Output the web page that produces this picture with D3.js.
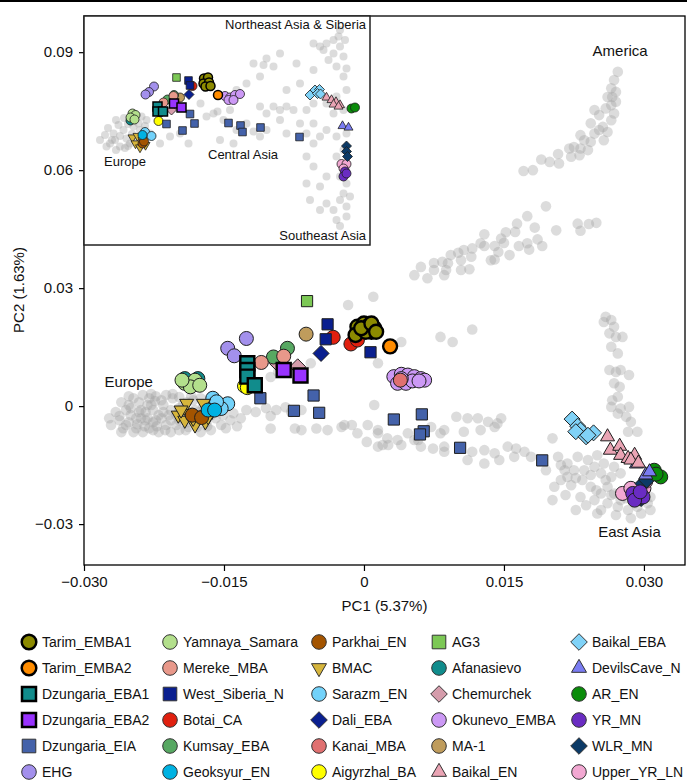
<!DOCTYPE html>
<meta charset="utf-8">
<script src="https://d3js.org/d3.v7.min.js"></script>
<body>
  <div id="my_dataviz"></div>
</body>
<style>
body { margin: 0; background: #fff; }
text { font-family: "Liberation Sans", Arial, Helvetica, sans-serif; fill: #111; }
.axis text { font-size: 15px; }
.axis line { stroke: #000; stroke-width: 1.2; }
</style>
<script>
// ---- data ----
var xTicks = [-0.030, -0.015, 0, 0.015, 0.030];
var xTickLabels = ["\u22120.030", "\u22120.015", "0", "0.015", "0.030"];
var yTicks = [0.09, 0.06, 0.03, 0, -0.03];
var yTickLabels = ["0.09", "0.06", "0.03", "0", "\u22120.03"];

// legend order, column by column
var groupNames = [
  "Tarim_EMBA1", "Tarim_EMBA2", "Dzungaria_EBA1", "Dzungaria_EBA2", "Dzungaria_EIA", "EHG",
  "Yamnaya_Samara", "Mereke_MBA", "West_Siberia_N", "Botai_CA", "Kumsay_EBA", "Geoksyur_EN",
  "Parkhai_EN", "BMAC", "Sarazm_EN", "Dali_EBA", "Kanai_MBA", "Aigyrzhal_BA",
  "AG3", "Afanasievo", "Chemurchek", "Okunevo_EMBA", "MA-1", "Baikal_EN",
  "Baikal_EBA", "DevilsCave_N", "AR_EN", "YR_MN", "WLR_MN", "Upper_YR_LN"
];

// ancient individuals, main panel [group, PC1, PC2]
var mainPoints = [
  ["Tarim_EMBA1", -0.0007, 0.0202], ["Tarim_EMBA1", 0.0000, 0.0210], ["Tarim_EMBA1", 0.0006, 0.0206],
  ["Tarim_EMBA1", 0.0011, 0.0198], ["Tarim_EMBA1", 0.0008, 0.0189], ["Tarim_EMBA1", -0.0009, 0.0181],
  ["Tarim_EMBA1", 0.0002, 0.0189], ["Tarim_EMBA1", -0.0003, 0.0198], ["Tarim_EMBA1", 0.0008, 0.0210],
  ["Tarim_EMBA1", 0.0013, 0.0189],
  ["Tarim_EMBA2", 0.0028, 0.0152],
  ["Dzungaria_EBA1", -0.0125, 0.0109], ["Dzungaria_EBA1", -0.0125, 0.0092], ["Dzungaria_EBA1", -0.0125, 0.0075],
  ["Dzungaria_EBA1", -0.0117, 0.0053],
  ["Dzungaria_EBA2", -0.0086, 0.0092], ["Dzungaria_EBA2", -0.0068, 0.0078],
  ["Dzungaria_EIA", -0.0111, 0.0020], ["Dzungaria_EIA", -0.0075, -0.0012], ["Dzungaria_EIA", -0.0054, 0.0027],
  ["Dzungaria_EIA", -0.0048, -0.0017], ["Dzungaria_EIA", 0.0032, -0.0034], ["Dzungaria_EIA", 0.0062, -0.0021],
  ["Dzungaria_EIA", 0.0064, -0.0064], ["Dzungaria_EIA", 0.0060, -0.0072], ["Dzungaria_EIA", 0.0103, -0.0106],
  ["Dzungaria_EIA", 0.0191, -0.0138],
  ["EHG", -0.0126, 0.0172], ["EHG", -0.0146, 0.0147], ["EHG", -0.0139, 0.0128],
  ["Yamnaya_Samara", -0.0192, 0.0058], ["Yamnaya_Samara", -0.0181, 0.0066], ["Yamnaya_Samara", -0.0186, 0.0049],
  ["Yamnaya_Samara", -0.0176, 0.0053], ["Yamnaya_Samara", -0.0195, 0.0066],
  ["Mereke_MBA", -0.0110, 0.0111], ["Mereke_MBA", -0.0086, 0.0127],
  ["West_Siberia_N", -0.0039, 0.0208], ["West_Siberia_N", -0.0041, 0.0170], ["West_Siberia_N", 0.0007, 0.0137],
  ["Botai_CA", -0.0033, 0.0175], ["Botai_CA", -0.0014, 0.0158], ["Botai_CA", -0.0007, 0.0168],
  ["Kumsay_EBA", -0.0097, 0.0125], ["Kumsay_EBA", -0.0082, 0.0147],
  ["Geoksyur_EN", -0.0167, -0.0010], ["Geoksyur_EN", -0.0160, -0.0010],
  ["Parkhai_EN", -0.0184, -0.0023], ["Parkhai_EN", -0.0174, -0.0029],
  ["BMAC", -0.0190, 0.0007], ["BMAC", -0.0172, 0.0007], ["BMAC", -0.0199, -0.0023], ["BMAC", -0.0192, -0.0036],
  ["BMAC", -0.0181, -0.0048], ["BMAC", -0.0170, -0.0040], ["BMAC", -0.0163, -0.0014], ["BMAC", -0.0188, -0.0019],
  ["BMAC", -0.0176, -0.0023], ["BMAC", -0.0183, -0.0031], ["BMAC", -0.0167, -0.0027], ["BMAC", -0.0196, -0.0010],
  ["Sarazm_EN", -0.0162, 0.0020], ["Sarazm_EN", -0.0146, 0.0006], ["Sarazm_EN", -0.0153, -0.0006],
  ["Sarazm_EN", -0.0158, 0.0011],
  ["Dali_EBA", -0.0046, 0.0134],
  ["Kanai_MBA", 0.0039, 0.0066],
  ["Aigyrzhal_BA", -0.0128, 0.0051], ["Aigyrzhal_BA", -0.0125, 0.0047],
  ["AG3", -0.0061, 0.0267],
  ["Afanasievo", -0.0192, 0.0070], ["Afanasievo", -0.0178, 0.0070],
  ["Chemurchek", -0.0071, 0.0100], ["Chemurchek", -0.0093, 0.0109],
  ["Okunevo_EMBA", 0.0032, 0.0075], ["Okunevo_EMBA", 0.0040, 0.0081], ["Okunevo_EMBA", 0.0047, 0.0079],
  ["Okunevo_EMBA", 0.0054, 0.0075], ["Okunevo_EMBA", 0.0061, 0.0070], ["Okunevo_EMBA", 0.0065, 0.0066],
  ["Okunevo_EMBA", 0.0036, 0.0058], ["Okunevo_EMBA", 0.0045, 0.0058], ["Okunevo_EMBA", 0.0052, 0.0064],
  ["Okunevo_EMBA", 0.0059, 0.0064], ["Okunevo_EMBA", 0.0040, 0.0070],
  ["MA-1", -0.0062, 0.0183],
  ["Baikal_EN", 0.0261, -0.0078], ["Baikal_EN", 0.0264, -0.0112], ["Baikal_EN", 0.0274, -0.0102],
  ["Baikal_EN", 0.0275, -0.0125], ["Baikal_EN", 0.0283, -0.0133], ["Baikal_EN", 0.0290, -0.0125],
  ["Baikal_EN", 0.0286, -0.0137], ["Baikal_EN", 0.0294, -0.0145],
  ["Baikal_EBA", 0.0223, -0.0033], ["Baikal_EBA", 0.0229, -0.0051], ["Baikal_EBA", 0.0232, -0.0061],
  ["Baikal_EBA", 0.0227, -0.0065], ["Baikal_EBA", 0.0238, -0.0078], ["Baikal_EBA", 0.0246, -0.0068],
  ["Baikal_EBA", 0.0240, -0.0074],
  ["DevilsCave_N", 0.0292, -0.0147], ["DevilsCave_N", 0.0302, -0.0175], ["DevilsCave_N", 0.0306, -0.0167],
  ["AR_EN", 0.0311, -0.0163], ["AR_EN", 0.0318, -0.0180], ["AR_EN", 0.0313, -0.0173],
  ["YR_MN", 0.0288, -0.0222], ["YR_MN", 0.0293, -0.0235], ["YR_MN", 0.0299, -0.0231],
  ["YR_MN", 0.0290, -0.0239], ["YR_MN", 0.0296, -0.0218],
  ["WLR_MN", 0.0299, -0.0197], ["WLR_MN", 0.0303, -0.0188], ["WLR_MN", 0.0297, -0.0235],
  ["Upper_YR_LN", 0.0277, -0.0222], ["Upper_YR_LN", 0.0286, -0.0209], ["Upper_YR_LN", 0.0300, -0.0209],
  ["Upper_YR_LN", 0.0302, -0.0191]
];

// present-day reference individuals, main panel [PC1, PC2]
var grayMain = [
  // Europe
  [-0.0262, -0.0036], [-0.0255, -0.0048], [-0.0250, -0.0023], [-0.0244, -0.0056], [-0.0239, -0.0010],
  [-0.0234, -0.0036], [-0.0228, 0.0003], [-0.0226, -0.0061], [-0.0220, -0.0023], [-0.0217, 0.0015],
  [-0.0212, -0.0048], [-0.0207, -0.0010], [-0.0205, 0.0020], [-0.0198, -0.0036], [-0.0194, 0.0003],
  [-0.0188, -0.0053], [-0.0183, 0.0015], [-0.0177, -0.0015], [-0.0169, -0.0041], [-0.0164, -0.0061],
  [-0.0159, -0.0031], [-0.0153, -0.0048], [-0.0241, 0.0010], [-0.0230, 0.0020], [-0.0252, 0.0003],
  [-0.0191, -0.0061], [-0.0175, -0.0066], [-0.0143, -0.0036], [-0.0148, -0.0056], [-0.0136, -0.0051],
  [-0.0271, -0.0048], [-0.0260, -0.0066], [-0.0237, -0.0066], [-0.0201, -0.0023], [-0.0223, -0.0036],
  [-0.0247, 0.0020], [-0.0237, 0.0028], [-0.0223, 0.0025], [-0.0212, 0.0028], [-0.0198, 0.0023],
  [-0.0185, 0.0025], [-0.0175, 0.0020], [-0.0255, -0.0010], [-0.0244, -0.0031], [-0.0234, -0.0015],
  [-0.0226, -0.0041], [-0.0217, -0.0031], [-0.0209, -0.0023], [-0.0201, -0.0048], [-0.0194, -0.0031],
  [-0.0185, -0.0015], [-0.0180, -0.0036], [-0.0166, -0.0010], [-0.0162, 0.0003], [-0.0155, -0.0010],
  [-0.0151, -0.0023], [-0.0266, -0.0015], [-0.0273, -0.0031], [-0.0258, -0.0056], [-0.0247, -0.0066],
  [-0.0230, -0.0056], [-0.0220, -0.0066], [-0.0207, -0.0066], [-0.0198, -0.0061], [-0.0215, 0.0003],
  [-0.0226, -0.0010], [-0.0239, -0.0031], [-0.0252, -0.0041],
  [-0.0260, 0.0010], [-0.0250, -0.0005], [-0.0241, -0.0015], [-0.0232, 0.0003], [-0.0224, 0.0013],
  [-0.0215, -0.0015], [-0.0207, -0.0036], [-0.0198, -0.0005], [-0.0190, 0.0010], [-0.0181, -0.0010],
  [-0.0172, 0.0000], [-0.0164, -0.0023], [-0.0243, -0.0046], [-0.0235, -0.0051], [-0.0222, -0.0051],
  [-0.0213, -0.0061], [-0.0190, -0.0041], [-0.0179, -0.0053], [-0.0168, -0.0051], [-0.0262, -0.0025],
  [-0.0252, 0.0025], [-0.0228, 0.0031], [-0.0205, 0.0031], [-0.0192, -0.0010], [-0.0232, -0.0031],
  // Central Asia / Siberia band
  [-0.0140, -0.0018], [-0.0126, -0.0010], [-0.0116, -0.0015], [-0.0105, -0.0005], [-0.0094, -0.0010],
  [-0.0084, -0.0003], [-0.0078, -0.0015], [-0.0132, -0.0031], [-0.0100, -0.0025], [-0.0067, -0.0010],
  [-0.0100, 0.0074], [-0.0092, 0.0087], [-0.0057, 0.0109], [-0.0017, 0.0257], [0.0010, 0.0278],
  [0.0040, 0.0163], [0.0011, 0.0003], [-0.0021, -0.0048], [-0.0013, -0.0048], [-0.0007, -0.0069],
  [0.0004, -0.0048], [0.0015, -0.0069], [0.0025, -0.0082], [0.0036, -0.0086], [0.0047, -0.0069],
  [0.0058, -0.0086], [0.0072, -0.0053], [0.0082, -0.0069], [0.0086, -0.0103], [-0.0067, -0.0061],
  [-0.0051, -0.0057], [-0.0039, -0.0061], [-0.0100, -0.0057], [0.0020, -0.0099], [0.0040, -0.0099],
  [0.0061, -0.0103], [0.0074, -0.0108], [0.0082, 0.0176], [-0.0074, -0.0057], [-0.0024, -0.0053],
  [0.0015, -0.0061], [0.0003, -0.0091], [0.0015, -0.0103], [0.0026, -0.0099], [0.0015, 0.0109],
  [0.0095, 0.0163], [0.0116, 0.0195], [0.0099, -0.0027], [0.0111, -0.0031], [0.0122, -0.0031],
  [0.0133, -0.0040], [0.0143, -0.0044], [0.0147, -0.0031], [0.0140, -0.0053], [0.0107, -0.0065],
  [0.0125, -0.0061], [0.0086, -0.0061], [0.0054, -0.0086], [0.0086, -0.0116], [0.0116, -0.0116],
  [0.0129, -0.0112], [0.0140, -0.0120], [0.0154, -0.0103], [0.0163, -0.0108], [0.0172, -0.0116],
  [0.0111, -0.0137], [0.0129, -0.0146], [0.0145, -0.0137], [0.0161, -0.0129], [0.0179, -0.0129],
  [0.0202, -0.0082],
  // East Asia
  [0.0208, -0.0129], [0.0218, -0.0146], [0.0229, -0.0129], [0.0240, -0.0137], [0.0250, -0.0125],
  [0.0225, -0.0163], [0.0236, -0.0163], [0.0247, -0.0154], [0.0257, -0.0146], [0.0268, -0.0154],
  [0.0254, -0.0171], [0.0265, -0.0180], [0.0275, -0.0171], [0.0211, -0.0188], [0.0204, -0.0205],
  [0.0222, -0.0201], [0.0234, -0.0188], [0.0243, -0.0205], [0.0254, -0.0222], [0.0261, -0.0205],
  [0.0232, -0.0231], [0.0247, -0.0239], [0.0261, -0.0247], [0.0272, -0.0256], [0.0283, -0.0264],
  [0.0293, -0.0256], [0.0304, -0.0247], [0.0307, -0.0231], [0.0275, -0.0239], [0.0290, -0.0247],
  [0.0268, -0.0222], [0.0218, -0.0180], [0.0215, -0.0163], [0.0202, -0.0239], [0.0250, -0.0273],
  [0.0297, -0.0273], [0.0211, -0.0150], [0.0227, -0.0183], [0.0243, -0.0175], [0.0259, -0.0188],
  [0.0249, -0.0214], [0.0265, -0.0226], [0.0281, -0.0234], [0.0238, -0.0252], [0.0254, -0.0264],
  [0.0270, -0.0277], [0.0286, -0.0285], [0.0216, -0.0226], [0.0227, -0.0264], [0.0195, -0.0163],
  [0.0307, -0.0264],
  // Siberia arm
  [0.0259, 0.0227], [0.0257, 0.0214], [0.0265, 0.0219], [0.0268, 0.0202], [0.0263, 0.0185],
  [0.0270, 0.0176], [0.0277, 0.0176], [0.0265, 0.0151], [0.0272, 0.0134], [0.0263, 0.0092],
  [0.0270, 0.0087], [0.0275, 0.0092], [0.0284, 0.0079], [0.0268, 0.0058], [0.0274, 0.0049],
  [0.0266, 0.0015], [0.0272, 0.0024], [0.0265, -0.0002], [0.0275, -0.0006], [0.0284, -0.0002],
  [0.0272, -0.0019], [0.0281, -0.0027], [0.0286, -0.0040], [0.0283, -0.0065], [0.0293, -0.0065],
  // America arm
  [0.0272, 0.0850], [0.0268, 0.0829], [0.0265, 0.0808], [0.0270, 0.0799], [0.0266, 0.0786],
  [0.0261, 0.0786], [0.0270, 0.0774], [0.0265, 0.0765], [0.0259, 0.0757], [0.0247, 0.0753],
  [0.0252, 0.0740], [0.0268, 0.0744], [0.0265, 0.0727], [0.0243, 0.0719], [0.0256, 0.0710],
  [0.0261, 0.0697], [0.0252, 0.0702], [0.0247, 0.0693], [0.0232, 0.0689], [0.0236, 0.0676],
  [0.0243, 0.0672], [0.0257, 0.0676], [0.0225, 0.0659], [0.0232, 0.0655], [0.0240, 0.0651],
  [0.0220, 0.0655], [0.0231, 0.0638], [0.0222, 0.0634], [0.0208, 0.0641], [0.0199, 0.0621],
  [0.0209, 0.0617], [0.0190, 0.0627], [0.0181, 0.0600], [0.0171, 0.0598],
  [0.0195, 0.0508], [0.0175, 0.0483], [0.0164, 0.0464], [0.0183, 0.0454], [0.0206, 0.0447],
  [0.0229, 0.0464], [0.0232, 0.0446], [0.0241, 0.0463], [0.0249, 0.0466], [0.0152, 0.0442],
  [0.0162, 0.0443], [0.0129, 0.0437], [0.0147, 0.0426], [0.0150, 0.0415], [0.0186, 0.0424],
  [0.0175, 0.0414], [0.0191, 0.0407], [0.0166, 0.0407], [0.0177, 0.0398], [0.0156, 0.0384],
  [0.0144, 0.0392], [0.0140, 0.0407], [0.0129, 0.0407], [0.0116, 0.0401], [0.0107, 0.0397],
  [0.0115, 0.0380], [0.0104, 0.0371], [0.0093, 0.0384], [0.0090, 0.0363], [0.0084, 0.0367],
  [0.0075, 0.0364], [0.0140, 0.0373], [0.0136, 0.0371], [0.0104, 0.0346], [0.0113, 0.0348],
  [0.0088, 0.0346], [0.0075, 0.0346], [0.0061, 0.0354], [0.0054, 0.0333], [0.0068, 0.0325],
  [0.0086, 0.0333], [0.0125, 0.0414], [0.0101, 0.0390]
];

// inset (wider view), arbitrary PC units [group, x, y]
var insetPoints = [
  ["Tarim_EMBA1", -0.0046, 0.0104], ["Tarim_EMBA1", -0.0038, 0.0106], ["Tarim_EMBA1", -0.0047, 0.0094],
  ["Tarim_EMBA1", -0.0036, 0.0096], ["Tarim_EMBA1", -0.0043, 0.0088], ["Tarim_EMBA1", -0.0033, 0.0089],
  ["Tarim_EMBA2", -0.0018, 0.0071],
  ["Dzungaria_EBA1", -0.0139, 0.0048], ["Dzungaria_EBA1", -0.0139, 0.0038], ["Dzungaria_EBA1", -0.0128, 0.0038],
  ["Dzungaria_EBA2", -0.0106, 0.0054], ["Dzungaria_EBA2", -0.0091, 0.0046],
  ["Dzungaria_EIA", -0.0121, 0.0013], ["Dzungaria_EIA", -0.0074, 0.0033], ["Dzungaria_EIA", -0.0065, 0.0014],
  ["Dzungaria_EIA", -0.0089, 0.0000], ["Dzungaria_EIA", 0.0003, 0.0015], ["Dzungaria_EIA", 0.0027, 0.0010],
  ["Dzungaria_EIA", 0.0031, -0.0003], ["Dzungaria_EIA", 0.0067, 0.0006], ["Dzungaria_EIA", 0.0145, -0.0013],
  ["EHG", -0.0146, 0.0088], ["EHG", -0.0156, 0.0077], ["EHG", -0.0163, 0.0072],
  ["Yamnaya_Samara", -0.0189, 0.0034], ["Yamnaya_Samara", -0.0183, 0.0031], ["Yamnaya_Samara", -0.0193, 0.0026],
  ["Yamnaya_Samara", -0.0185, 0.0022],
  ["Mereke_MBA", -0.0127, 0.0056], ["Mereke_MBA", -0.0107, 0.0069],
  ["West_Siberia_N", -0.0077, 0.0100], ["West_Siberia_N", -0.0074, 0.0090],
  ["Botai_CA", -0.0069, 0.0089],
  ["Kumsay_EBA", -0.0106, 0.0071], ["Kumsay_EBA", -0.0119, 0.0062],
  ["Geoksyur_EN", -0.0169, -0.0009],
  ["Parkhai_EN", -0.0169, -0.0026], ["Parkhai_EN", -0.0166, -0.0022],
  ["BMAC", -0.0189, -0.0014], ["BMAC", -0.0179, -0.0011], ["BMAC", -0.0169, -0.0019],
  ["BMAC", -0.0183, -0.0026], ["BMAC", -0.0163, -0.0029], ["BMAC", -0.0174, -0.0034],
  ["Sarazm_EN", -0.0164, -0.0003], ["Sarazm_EN", -0.0151, -0.0011],
  ["Dali_EBA", -0.0076, 0.0072],
  ["Aigyrzhal_BA", -0.0137, 0.0019],
  ["AG3", -0.0101, 0.0106],
  ["Afanasievo", -0.0193, 0.0020],
  ["Chemurchek", -0.0111, 0.0041],
  ["Okunevo_EMBA", -0.0004, 0.0069], ["Okunevo_EMBA", 0.0006, 0.0066], ["Okunevo_EMBA", 0.0016, 0.0071],
  ["Okunevo_EMBA", 0.0026, 0.0073], ["Okunevo_EMBA", 0.0003, 0.0061], ["Okunevo_EMBA", 0.0013, 0.0061],
  ["MA-1", -0.0094, 0.0066],
  ["Baikal_EN", 0.0199, 0.0066], ["Baikal_EN", 0.0209, 0.0061], ["Baikal_EN", 0.0218, 0.0057],
  ["Baikal_EN", 0.0226, 0.0051], ["Baikal_EN", 0.0213, 0.0052], ["Baikal_EN", 0.0223, 0.0048],
  ["Baikal_EBA", 0.0166, 0.0071], ["Baikal_EBA", 0.0176, 0.0081], ["Baikal_EBA", 0.0185, 0.0082],
  ["Baikal_EBA", 0.0181, 0.0074], ["Baikal_EBA", 0.0187, 0.0073],
  ["DevilsCave_N", 0.0231, 0.0009], ["DevilsCave_N", 0.0243, 0.0006],
  ["AR_EN", 0.0249, 0.0044], ["AR_EN", 0.0256, 0.0046],
  ["YR_MN", 0.0236, -0.0082], ["YR_MN", 0.0233, -0.0092], ["YR_MN", 0.0239, -0.0086],
  ["WLR_MN", 0.0239, -0.0031], ["WLR_MN", 0.0239, -0.0042], ["WLR_MN", 0.0241, -0.0052],
  ["Upper_YR_LN", 0.0229, -0.0067], ["Upper_YR_LN", 0.0239, -0.0067], ["Upper_YR_LN", 0.0233, -0.0076]
];

var grayInset = [
  [-0.0234, -0.0026], [-0.0227, -0.0006], [-0.0217, 0.0011], [-0.0207, 0.0001], [-0.0201, -0.0016],
  [-0.0187, 0.0008], [-0.0194, -0.0026], [-0.0177, 0.0014], [-0.0171, 0.0028], [-0.0214, -0.0032],
  [-0.0241, -0.0032], [-0.0187, 0.0021], [-0.0161, 0.0021], [-0.0154, -0.0006], [-0.0224, -0.0019],
  [-0.0204, -0.0035], [-0.0244, -0.0009], [-0.0238, 0.0005], [-0.0222, 0.0021], [-0.0206, 0.0025],
  [-0.0198, 0.0013], [-0.0230, -0.0019], [-0.0214, -0.0011], [-0.0190, -0.0007], [-0.0174, 0.0001],
  [-0.0164, 0.0009], [-0.0182, -0.0019], [-0.0198, -0.0031], [-0.0254, -0.0019], [-0.0222, -0.0039],
  [-0.0114, -0.0012], [-0.0094, -0.0006], [-0.0077, -0.0026], [-0.0134, -0.0026], [-0.0041, 0.0028],
  [-0.0027, 0.0034], [-0.0007, 0.0021], [0.0006, 0.0041], [0.0019, 0.0001], [0.0039, 0.0014],
  [0.0053, -0.0002], [0.0066, 0.0048], [0.0079, 0.0034], [0.0093, 0.0048], [0.0106, 0.0041],
  [0.0119, 0.0048], [0.0133, 0.0041], [0.0106, 0.0021], [0.0079, 0.0001], [0.0066, -0.0012],
  [0.0119, -0.0006], [0.0146, 0.0014], [0.0159, -0.0006], [0.0173, 0.0014], [0.0186, -0.0012],
  [0.0199, 0.0001], [0.0173, -0.0026], [0.0013, -0.0026], [-0.0014, -0.0019], [-0.0053, 0.0054],
  [-0.0019, 0.0038],
  [0.0053, 0.0134], [0.0073, 0.0131], [0.0093, 0.0128], [0.0079, 0.0144], [0.0039, 0.0094],
  [0.0066, 0.0108], [0.0139, 0.0134], [0.0106, 0.0154], [0.0019, 0.0081], [0.0119, 0.0081],
  [0.0146, 0.0094], [0.0173, 0.0121],
  [0.0173, 0.0174], [0.0186, 0.0168], [0.0199, 0.0174], [0.0213, 0.0181], [0.0223, 0.0188],
  [0.0226, 0.0168], [0.0233, 0.0148], [0.0213, 0.0154], [0.0193, 0.0161], [0.0203, 0.0141],
  [0.0219, 0.0128], [0.0239, 0.0124], [0.0233, 0.0108], [0.0239, 0.0081], [0.0219, 0.0068],
  [0.0199, 0.0054], [0.0173, 0.0054], [0.0159, 0.0041], [0.0233, 0.0041], [0.0213, 0.0034],
  [0.0226, 0.0201], [0.0236, 0.0181],
  [0.0219, -0.0012], [0.0239, -0.0006], [0.0233, -0.0039], [0.0219, -0.0052], [0.0239, -0.0072],
  [0.0226, -0.0092], [0.0239, -0.0106], [0.0233, -0.0126], [0.0246, -0.0132], [0.0226, -0.0139],
  [0.0239, -0.0152], [0.0213, -0.0159], [0.0199, -0.0146], [0.0186, -0.0159], [0.0219, -0.0179],
  [0.0239, -0.0172], [0.0166, -0.0139], [0.0159, -0.0106], [0.0186, -0.0112], [0.0173, -0.0072],
  [0.0199, -0.0092], [0.0159, -0.0052], [0.0226, -0.0191]
];

var mainLabels = [["America", 0.0245, 0.0890, "start"], ["Europe", -0.0278, 0.0048, "start"],
                  ["East Asia", 0.0251, -0.0333, "start"]];
var insetLabels = [["Northeast Asia & Siberia", 0.0278, 0.0203, "end"], ["Europe", -0.0246, -0.0071, "start"],
                   ["Central Asia", -0.0038, -0.0057, "start"], ["Southeast Asia", 0.0278, -0.0219, "end"]];

// ---- styles ----
var styleOf = {
  "Tarim_EMBA1": {fill: "#8c8a00", shape: "circle", bold: true},
  "Tarim_EMBA2": {fill: "#ff8c00", shape: "circle", bold: true},
  "Dzungaria_EBA1": {fill: "#118c8c", shape: "square", bold: true},
  "Dzungaria_EBA2": {fill: "#9933ff", shape: "square", bold: true},
  "Dzungaria_EIA": {fill: "#4462aa", shape: "square"},
  "EHG": {fill: "#a390ec", shape: "circle"},
  "Yamnaya_Samara": {fill: "#b3df8c", shape: "circle"},
  "Mereke_MBA": {fill: "#e8988a", shape: "circle"},
  "West_Siberia_N": {fill: "#0a1f8f", shape: "square"},
  "Botai_CA": {fill: "#e0200f", shape: "circle"},
  "Kumsay_EBA": {fill: "#57a862", shape: "circle"},
  "Geoksyur_EN": {fill: "#00b2e2", shape: "circle"},
  "Parkhai_EN": {fill: "#a35400", shape: "circle"},
  "BMAC": {fill: "#d6b53c", shape: "triangleDown"},
  "Sarazm_EN": {fill: "#72d2fa", shape: "circle"},
  "Dali_EBA": {fill: "#0a1f8f", shape: "diamond"},
  "Kanai_MBA": {fill: "#e07070", shape: "circle"},
  "Aigyrzhal_BA": {fill: "#ffff00", shape: "circle"},
  "AG3": {fill: "#7cc855", shape: "square"},
  "Afanasievo": {fill: "#108c8c", shape: "circle"},
  "Chemurchek": {fill: "#d59cab", shape: "diamond"},
  "Okunevo_EMBA": {fill: "#cc99f5", shape: "circle"},
  "MA-1": {fill: "#bf9c5c", shape: "circle"},
  "Baikal_EN": {fill: "#eaa4b4", shape: "triangleUp"},
  "Baikal_EBA": {fill: "#80d2f7", shape: "diamond"},
  "DevilsCave_N": {fill: "#7a7cf2", shape: "triangleUp"},
  "AR_EN": {fill: "#0a8c0a", shape: "circle"},
  "YR_MN": {fill: "#6a2cc2", shape: "circle"},
  "WLR_MN": {fill: "#0c3a66", shape: "diamond"},
  "Upper_YR_LN": {fill: "#f2a8d2", shape: "circle"}
};

function shapePath(shape, s) {
  var p = d3.path();
  if (shape === "circle") {
    p.moveTo(s, 0); p.arc(0, 0, s, 0, 2 * Math.PI);
  } else if (shape === "square") {
    p.rect(-s, -s, 2 * s, 2 * s);
  } else if (shape === "diamond") {
    p.moveTo(0, -s); p.lineTo(s, 0); p.lineTo(0, s); p.lineTo(-s, 0);
  } else {
    var h = s * Math.sqrt(3) / 2, sgn = shape === "triangleUp" ? 1 : -1;
    p.moveTo(0, -sgn * h * 2 / 3); p.lineTo(s / 2, sgn * h / 3); p.lineTo(-s / 2, sgn * h / 3);
  }
  p.closePath();
  return p.toString();
}

// size per context: [circle r, square half, bold square half, diamond half, triangle side]
function sizeFor(st, sz) {
  if (st.shape === "circle") return sz[0];
  if (st.shape === "square") return st.bold ? sz[2] : sz[1];
  if (st.shape === "diamond") return sz[3];
  return sz[4];
}

var W = 687, H = 781;
var svg = d3.select("#my_dataviz").append("svg").attr("width", W).attr("height", H);

svg.append("rect").attr("x", 0).attr("y", 0).attr("width", W).attr("height", 2).attr("fill", "#000");

var plot = {left: 84, right: 685, top: 16, bottom: 565};
var x = d3.scaleLinear().domain([-0.030, 0.0344]).range([plot.left, plot.right]);
var y = d3.scaleLinear().domain([-0.0404, 0.0992]).range([plot.bottom, plot.top]);

// axes
svg.append("g").attr("class", "axis")
  .attr("transform", "translate(0," + plot.bottom + ")")
  .call(d3.axisBottom(x).tickValues(xTicks).tickSize(6).tickPadding(5)
    .tickFormat(function(d, i) { return xTickLabels[i]; }))
  .call(function(g) { g.select(".domain").remove(); });

svg.append("g").attr("class", "axis")
  .attr("transform", "translate(" + plot.left + ",0)")
  .call(d3.axisLeft(y).tickValues(yTicks).tickSize(5).tickPadding(6)
    .tickFormat(function(d, i) { return yTickLabels[i]; }))
  .call(function(g) { g.select(".domain").remove(); });
svg.selectAll(".axis text").attr("fill", "#111");

svg.append("text").attr("x", (plot.left + plot.right) / 2).attr("y", 611)
  .attr("text-anchor", "middle").style("font-size", "15px").text("PC1 (5.37%)");
svg.append("text").attr("transform", "translate(24,290) rotate(-90)")
  .attr("text-anchor", "middle").style("font-size", "15px").text("PC2 (1.63%)");

// background individuals
svg.append("g").selectAll("circle").data(grayMain).enter().append("circle")
  .attr("cx", function(d) { return x(d[0]); })
  .attr("cy", function(d) { return y(d[1]); })
  .attr("r", 5.3).attr("fill", "#a4a4a4").attr("fill-opacity", 0.38);

var drawOrder = groupNames.slice().reverse();
function drawGroups(g, pts, sx, sy, sz, thin, thick) {
  drawOrder.forEach(function(name) {
    var st = styleOf[name];
    g.selectAll(null).data(pts.filter(function(d) { return d[0] === name; })).enter().append("path")
      .attr("d", shapePath(st.shape, sizeFor(st, sz)))
      .attr("transform", function(d) { return "translate(" + sx(d[1]) + "," + sy(d[2]) + ")"; })
      .attr("fill", st.fill)
      .attr("stroke", st.bold ? "#000" : "#1e1e1e")
      .attr("stroke-width", st.bold ? thick : thin);
  });
}
drawGroups(svg.append("g"), mainPoints, x, y, [7, 5.6, 7, 8, 14], 1, 2.4);

mainLabels.forEach(function(l) {
  svg.append("text").attr("x", x(l[1])).attr("y", y(l[2])).attr("text-anchor", l[3])
    .style("font-size", "15px").text(l[0]);
});

// frame
svg.append("rect").attr("x", plot.left).attr("y", plot.top)
  .attr("width", plot.right - plot.left).attr("height", plot.bottom - plot.top)
  .attr("fill", "none").attr("stroke", "#000").attr("stroke-width", 1.3);

// inset
var inset = {left: 84, right: 370, top: 16, bottom: 245};
var ix = d3.scaleLinear().domain([-0.0286, 0.0286]).range([inset.left, inset.right]);
var iy = d3.scaleLinear().domain([-0.0229, 0.0229]).range([inset.bottom, inset.top]);
var ig = svg.append("g");
ig.append("rect").attr("x", inset.left).attr("y", inset.top)
  .attr("width", inset.right - inset.left).attr("height", inset.bottom - inset.top)
  .attr("fill", "#fff");
ig.append("g").selectAll("circle").data(grayInset).enter().append("circle")
  .attr("cx", function(d) { return ix(d[0]); })
  .attr("cy", function(d) { return iy(d[1]); })
  .attr("r", 4).attr("fill", "#a4a4a4").attr("fill-opacity", 0.38);
drawGroups(ig.append("g"), insetPoints, ix, iy, [4.5, 3.8, 4.5, 5, 9], 0.8, 1.5);
insetLabels.forEach(function(l) {
  ig.append("text").attr("x", ix(l[1])).attr("y", iy(l[2])).attr("text-anchor", l[3])
    .style("font-size", "13px").text(l[0]);
});
ig.append("rect").attr("x", inset.left).attr("y", inset.top)
  .attr("width", inset.right - inset.left).attr("height", inset.bottom - inset.top)
  .attr("fill", "none").attr("stroke", "#222").attr("stroke-width", 1.5);

// legend
var legX = [42, 183, 332, 452, 592];
var leg = svg.append("g");
groupNames.forEach(function(name, i) {
  var col = Math.floor(i / 6), row = i % 6;
  var st = styleOf[name];
  var cy = 642 + row * 26;
  leg.append("path")
    .attr("d", shapePath(st.shape, sizeFor(st, [7.3, 6.8, 7, 8.3, 15])))
    .attr("transform", "translate(" + (legX[col] - 13) + "," + cy + ")")
    .attr("fill", st.fill)
    .attr("stroke", st.bold ? "#000" : "#333")
    .attr("stroke-width", st.bold ? 2.5 : 1);
  leg.append("text").attr("x", legX[col]).attr("y", cy + 5)
    .style("font-size", "14px").text(name);
});
</script>
